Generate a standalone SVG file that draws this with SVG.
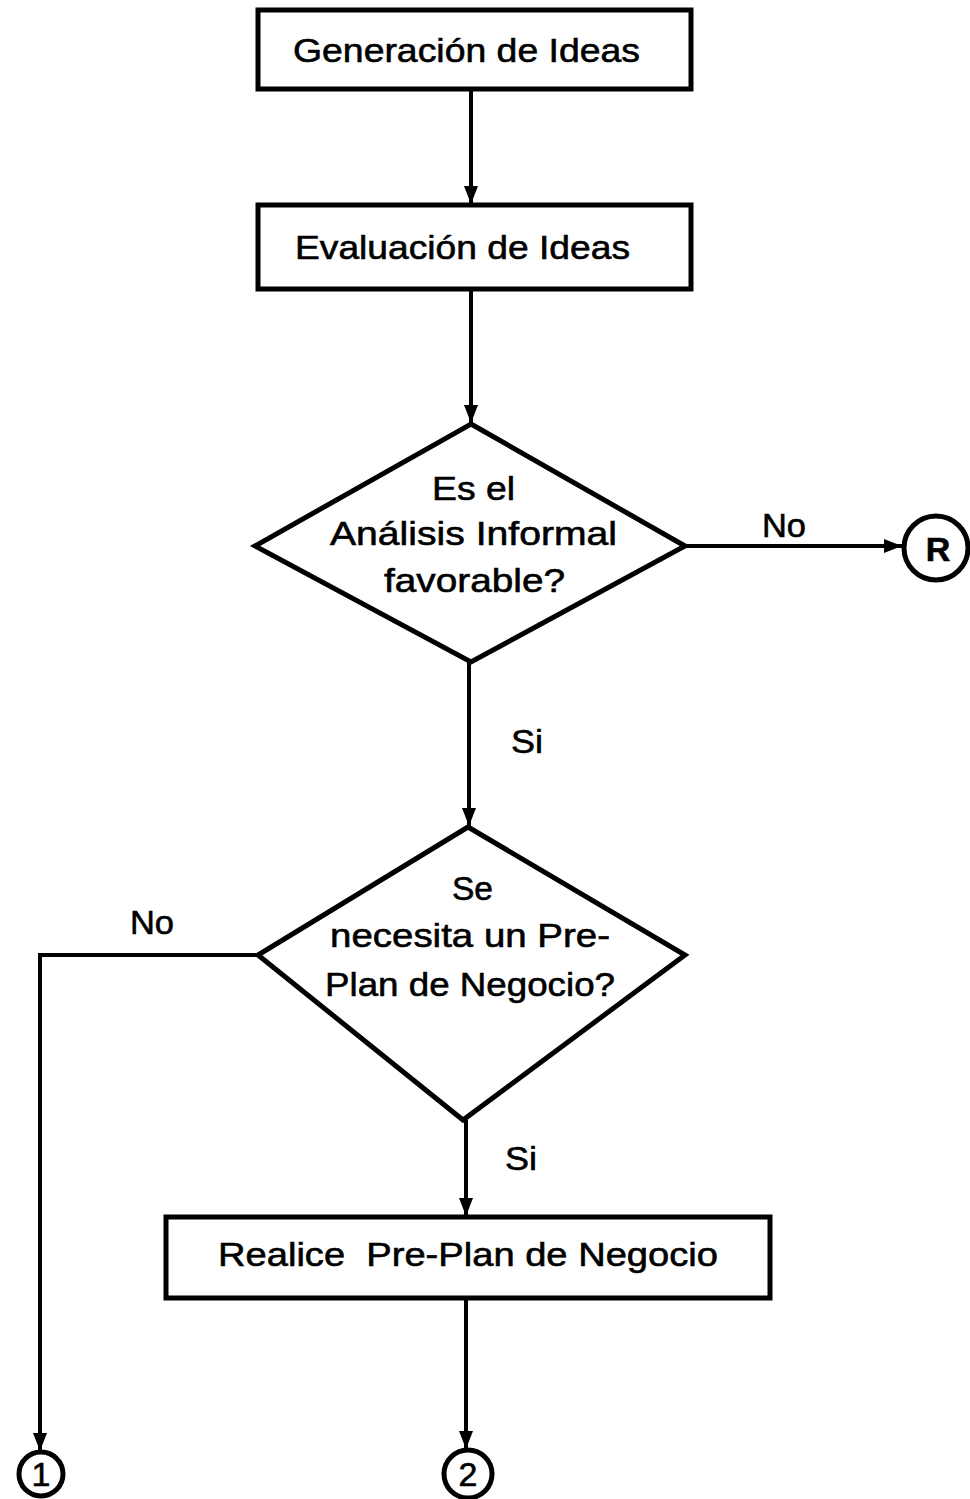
<svg xmlns="http://www.w3.org/2000/svg" width="970" height="1499" viewBox="0 0 970 1499">
<style>
.box{fill:#fff;stroke:#000;stroke-width:5}
.ln{fill:none;stroke:#000;stroke-width:4}
.t{font-family:"Liberation Sans",Arial,sans-serif;font-size:34px;fill:#000;stroke:#000;stroke-width:0.6}
.c{text-anchor:middle}
</style>
<defs>
<marker id="a" viewBox="0 0 18 14" refX="18" refY="7" markerWidth="18" markerHeight="14" markerUnits="userSpaceOnUse" orient="auto">
<path d="M0,0 L18,7 L0,14 z" fill="#000"/>
</marker>
</defs>
<rect width="970" height="1499" fill="#fff"/>
<g id="connectors">
<line class="ln" x1="471" y1="89" x2="471" y2="204" marker-end="url(#a)"/>
<line class="ln" x1="471" y1="289" x2="471" y2="423" marker-end="url(#a)"/>
<line class="ln" x1="685" y1="546" x2="902" y2="546" marker-end="url(#a)"/>
<line class="ln" x1="469" y1="662" x2="469" y2="826" marker-end="url(#a)"/>
<polyline class="ln" points="258,955 40,955 40,1451" marker-end="url(#a)"/>
<line class="ln" x1="466" y1="1120" x2="466" y2="1216" stroke="#555" marker-end="url(#a)"/>
<line class="ln" x1="466" y1="1298" x2="466" y2="1449" marker-end="url(#a)"/>
<text class="t" x="762" y="537" textLength="44" lengthAdjust="spacingAndGlyphs">No</text>
<text class="t" x="511" y="753" textLength="32" lengthAdjust="spacingAndGlyphs">Si</text>
<text class="t" x="130" y="934" textLength="44" lengthAdjust="spacingAndGlyphs">No</text>
<text class="t" x="505" y="1170" textLength="32" lengthAdjust="spacingAndGlyphs">Si</text>
</g>
<g id="n1">
<rect class="box" x="258" y="10" width="433" height="79"/>
<text class="t" x="293" y="62" textLength="347" lengthAdjust="spacingAndGlyphs">Generación de Ideas</text>
</g>
<g id="n2">
<rect class="box" x="258" y="205" width="433" height="84"/>
<text class="t" x="295" y="259" textLength="335" lengthAdjust="spacingAndGlyphs">Evaluación de Ideas</text>
</g>
<g id="d1">
<polygon class="box" points="471,424 685,546 471,662 255,546"/>
<text class="t" x="432" y="500" textLength="83" lengthAdjust="spacingAndGlyphs">Es el</text>
<text class="t" x="330" y="545" textLength="287" lengthAdjust="spacingAndGlyphs">Análisis Informal</text>
<text class="t" x="384" y="592" textLength="181" lengthAdjust="spacingAndGlyphs">favorable?</text>
</g>
<g id="cR">
<circle class="box" cx="936" cy="548" r="32"/>
<text class="t c" x="938" y="561" font-weight="bold" font-size="32">R</text>
</g>
<g id="d2">
<polygon class="box" points="468,827 685,955 463,1120 258,955"/>
<text class="t" x="452" y="900" textLength="41" lengthAdjust="spacingAndGlyphs">Se</text>
<text class="t" x="330" y="947" textLength="280" lengthAdjust="spacingAndGlyphs">necesita un Pre-</text>
<text class="t" x="325" y="996" textLength="290" lengthAdjust="spacingAndGlyphs">Plan de Negocio?</text>
</g>
<g id="n3">
<rect class="box" x="166" y="1217" width="604" height="81"/>
<text class="t" x="218" y="1266" textLength="500" lengthAdjust="spacingAndGlyphs" xml:space="preserve">Realice  Pre-Plan de Negocio</text>
</g>
<g id="c1">
<circle class="box" cx="41" cy="1474" r="22"/>
<text class="t c" x="41" y="1486" font-size="32">1</text>
</g>
<g id="c2">
<circle class="box" cx="468" cy="1474" r="24"/>
<text class="t c" x="468" y="1486" font-size="32">2</text>
</g>
</svg>
